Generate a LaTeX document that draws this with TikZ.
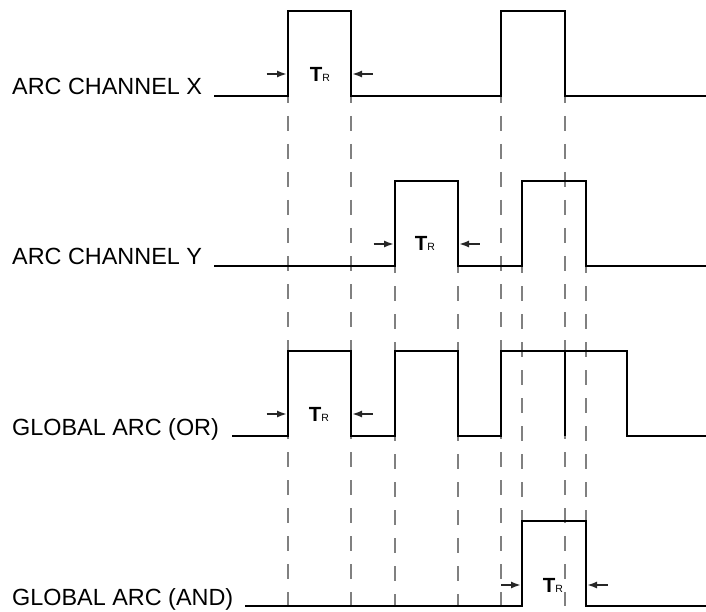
\documentclass[tikz,border=0pt]{standalone}
\usepackage{fontspec}
\setmainfont{Liberation Sans}
\usetikzlibrary{positioning,arrows.meta}
\newcommand{\trlabel}{{\fontsize{20.5}{20}\selectfont\bfseries T}{\fontsize{10.5}{11}\selectfont R}}

\begin{document}
\begin{tikzpicture}[x=1pt, y=-1pt,
            sig/.style={line width=2.7pt, line join=miter},
            guide/.style={gray, line width=2.2pt, dash pattern=on 15pt off 13pt, dash phase=8pt},
            lbl/.style={anchor=base west, inner sep=0pt, font=\fontsize{23.4}{26}\selectfont},
            tr/.style={anchor=base, inner sep=0pt},
            arrow/.style={-{Latex[length=9.5pt,width=7pt]}, line width=1.3pt, black!85}
        ]
            \useasboundingbox (0,0) rectangle (706,612);

            % guide lines from the pulse edges
            \foreach \x in {288,351,501,565} \draw [guide] (\x,96) -- (\x,606);
            \foreach \x in {395,458,522,586} \draw [guide] (\x,266) -- (\x,606);

            % channel x
            \node (chx) [lbl] at (12,95) {ARC CHANNEL X};
            \draw [sig] (214,96) -| (288,11) -| (351,96) -| (501,11) -| (565,96) -- (706,96);
            \coordinate (xl) at (286.5,74);
            \coordinate (xr) at (352.5,74);
            \node (trx) [tr] at (320,82) {\trlabel};
            \draw [arrow] ([xshift=-20pt]xl) -- (xl);
            \draw [arrow] ([xshift=20pt]xr) -- (xr);

            % channel y
            \node (chy) [lbl] at (12,264) {ARC CHANNEL Y};
            \draw [sig] (214,266) -| (395,181) -| (458,266) -| (522,181) -| (586,266) -- (706,266);
            \coordinate (yl) at (393.5,244);
            \coordinate (yr) at (459.5,244);
            \node (try) [tr] at (425,251) {\trlabel};
            \draw [arrow] ([xshift=-20pt]yl) -- (yl);
            \draw [arrow] ([xshift=20pt]yr) -- (yr);

            % global or
            \node (gor) [lbl] at (12,435) {GLOBAL ARC (OR)};
            \draw [sig] (232,436) -| (288,351) -| (351,436) -| (395,351) -| (458,436) -| (501,351) -| (627,436) -- (706,436);
            \draw [sig] (565,351) -- (565,436);
            \coordinate (ol) at (286.5,414);
            \coordinate (or) at (352.5,414);
            \node (tro) [tr] at (319,421) {\trlabel};
            \draw [arrow] ([xshift=-20pt]ol) -- (ol);
            \draw [arrow] ([xshift=20pt]or) -- (or);

            % global and
            \node (gand) [lbl] at (12,605) {GLOBAL ARC (AND)};
            \draw [sig] (245,606) -| (522,521) -| (586,606) -- (706,606);
            \coordinate (al) at (520.5,585);
            \coordinate (ar) at (587.5,585);
            \node (tra) [tr] at (553,592) {\trlabel};
            \draw [arrow] (501,585) -- (al);
            \draw [arrow] ([xshift=20pt]ar) -- (ar);
        \end{tikzpicture}
\end{document}
